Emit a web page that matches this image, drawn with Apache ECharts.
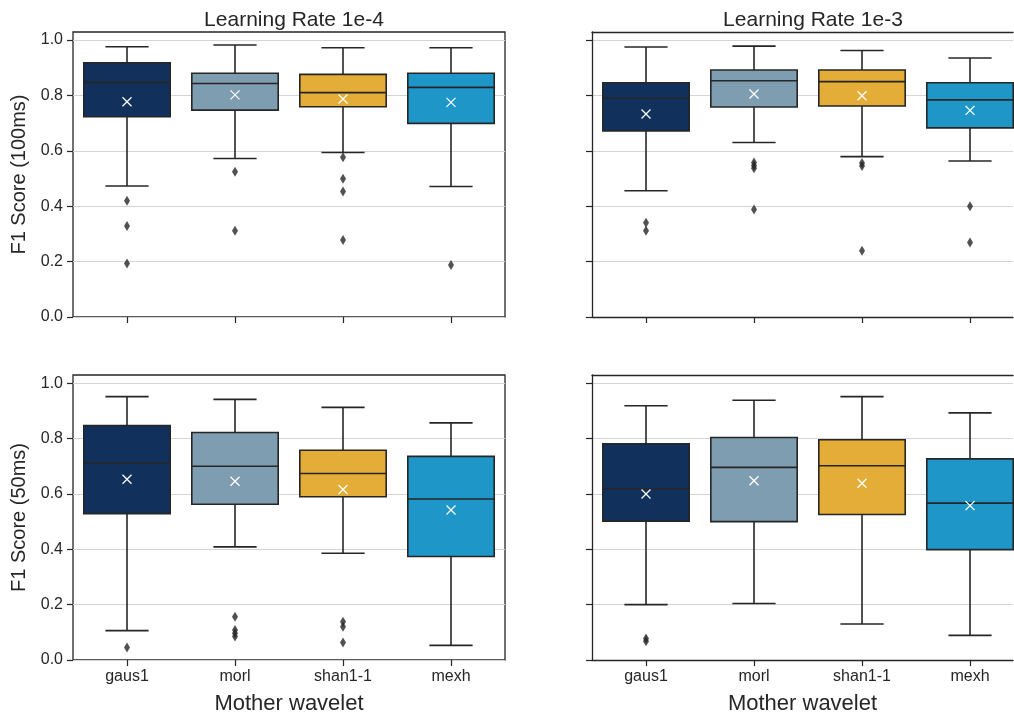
<!DOCTYPE html>
<html>
<head>
<meta charset="utf-8">
<script src="https://cdn.jsdelivr.net/npm/echarts@6/dist/echarts.min.js"></script>
<style>
  html, body { margin: 0; padding: 0; background: #ffffff; }
  #chart { width: 1014px; height: 716px; }
</style>
</head>
<body>
<div id="chart"></div>
<script>
// Mother wavelets compared on the x axis
const categories = ['gaus1', 'morl', 'shan1-1', 'mexh'];
const boxColors = ['#11305c', '#7f9db0', '#e3ad38', '#1e96c7'];
const yTicks = [0, 0.2, 0.4, 0.6, 0.8, 1.0];
const xTicks = [0, 1, 2, 3];

// Box statistics per wavelet: [lower whisker, Q1, median, Q3, upper whisker]
const lr4Stats100 = [
  [0.473, 0.723, 0.847, 0.918, 0.976],
  [0.572, 0.747, 0.843, 0.880, 0.982],
  [0.594, 0.759, 0.810, 0.876, 0.972],
  [0.471, 0.699, 0.829, 0.880, 0.972]
];
const lr4Means100 = [0.777, 0.802, 0.787, 0.775];
const lr4Outliers100 = [
  [0.420, 0.329, 0.193],
  [0.524, 0.311],
  [0.577, 0.499, 0.453, 0.278],
  [0.188]
];

const lr3Stats100 = [
  [0.456, 0.672, 0.790, 0.846, 0.975],
  [0.630, 0.758, 0.853, 0.892, 0.978],
  [0.579, 0.762, 0.850, 0.892, 0.962],
  [0.563, 0.683, 0.784, 0.846, 0.935]
];
const lr3Means100 = [0.733, 0.805, 0.799, 0.746];
const lr3Outliers100 = [
  [0.340, 0.311],
  [0.558, 0.547, 0.537, 0.388],
  [0.556, 0.545, 0.239],
  [0.400, 0.269]
];

const lr4Stats50 = [
  [0.106, 0.529, 0.711, 0.847, 0.952],
  [0.409, 0.563, 0.700, 0.822, 0.942],
  [0.386, 0.590, 0.674, 0.758, 0.913],
  [0.053, 0.374, 0.582, 0.736, 0.857]
];
const lr4Means50 = [0.653, 0.646, 0.616, 0.542];
const lr4Outliers50 = [
  [0.045],
  [0.156, 0.108, 0.097, 0.085],
  [0.138, 0.120, 0.063],
  []
];

const lr3Stats50 = [
  [0.200, 0.502, 0.619, 0.781, 0.919],
  [0.204, 0.500, 0.696, 0.804, 0.939],
  [0.130, 0.526, 0.702, 0.796, 0.952],
  [0.089, 0.399, 0.567, 0.727, 0.893]
];
const lr3Means50 = [0.600, 0.648, 0.639, 0.558];
const lr3Outliers50 = [
  [0.078, 0.068],
  [],
  [],
  []
];

const INK = '#262626';
const FONT = 'Liberation Sans, Arial, sans-serif';

const panels = [
  { stats: lr4Stats100, means: lr4Means100, outliers: lr4Outliers100 },
  { stats: lr3Stats100, means: lr3Means100, outliers: lr3Outliers100 },
  { stats: lr4Stats50, means: lr4Means50, outliers: lr4Outliers50 },
  { stats: lr3Stats50, means: lr3Means50, outliers: lr3Outliers50 }
];

// Right-hand column is cut by the canvas edge: its x range stops short of 3.5
const grids = [
  { left: 73, top: 32, width: 432, height: 285, yMax: 1.029, xMax: 3.5, frame: true },
  { left: 592, top: 32, width: 421, height: 285, yMax: 1.029, xMax: 3.398, frame: false },
  { left: 73, top: 375, width: 432, height: 286, yMax: 1.030, xMax: 3.5, frame: true },
  { left: 592, top: 375, width: 421, height: 286, yMax: 1.030, xMax: 3.398, frame: false }
];

function renderBox(params, api) {
  const i = api.value(0);
  const x = api.coord([i, 0])[0];
  const y = k => api.coord([i, api.value(k)])[1];
  const bw = api.size([1, 0])[0] * 0.8;
  const cw = bw / 2;
  const lo = y(1), q1 = y(2), med = y(3), q3 = y(4), hi = y(5), mean = y(6);
  const line = { stroke: INK, lineWidth: 1.6, fill: null };
  const m = 4.5;
  const cross = { stroke: '#ffffff', lineWidth: 1.3, fill: null };
  return {
    type: 'group',
    children: [
      { type: 'line', shape: { x1: x, y1: q3, x2: x, y2: hi }, style: line },
      { type: 'line', shape: { x1: x, y1: q1, x2: x, y2: lo }, style: line },
      { type: 'line', shape: { x1: x - cw / 2, y1: hi, x2: x + cw / 2, y2: hi }, style: line },
      { type: 'line', shape: { x1: x - cw / 2, y1: lo, x2: x + cw / 2, y2: lo }, style: line },
      { type: 'rect', shape: { x: x - bw / 2, y: q3, width: bw, height: q1 - q3 },
        style: { fill: boxColors[i], stroke: INK, lineWidth: 1.6 } },
      { type: 'line', shape: { x1: x - bw / 2, y1: med, x2: x + bw / 2, y2: med }, style: line },
      { type: 'line', shape: { x1: x - m, y1: mean - m, x2: x + m, y2: mean + m }, style: cross },
      { type: 'line', shape: { x1: x - m, y1: mean + m, x2: x + m, y2: mean - m }, style: cross }
    ]
  };
}

const frameLine = { show: true, onZero: false, lineStyle: { color: INK, width: 1.3 } };
const noLine = { show: false, onZero: false };

const xAxes = grids.map((g, gi) => ({
  type: 'value',
  gridIndex: gi,
  min: -0.5,
  max: g.xMax,
  position: 'bottom',
  axisLine: g.frame ? noLine : frameLine,
  axisTick: { show: true, length: 6, customValues: xTicks, lineStyle: { color: INK, width: 1.2 } },
  axisLabel: {
    show: gi >= 2, customValues: xTicks, color: INK, fontSize: 16, fontFamily: FONT, margin: 9,
    formatter: v => categories[Math.round(v)]
  },
  splitLine: { show: false },
  name: gi >= 2 ? 'Mother wavelet' : '',
  nameLocation: 'middle',
  nameGap: 33,
  nameTextStyle: { color: INK, fontSize: 22, fontFamily: FONT }
}));

// Top edges of the right-hand panels
[1, 3].forEach(gi => {
  xAxes.push({
    type: 'value', gridIndex: gi, min: -0.5, max: grids[gi].xMax, position: 'top',
    axisLine: frameLine, axisTick: { show: false }, axisLabel: { show: false }, splitLine: { show: false }
  });
});

const yAxes = grids.map((g, gi) => ({
  type: 'value',
  gridIndex: gi,
  min: 0,
  max: g.yMax,
  interval: 0.2,
  position: 'left',
  axisLine: g.frame ? noLine : frameLine,
  axisTick: { show: true, length: 6, customValues: yTicks, lineStyle: { color: INK, width: 1.2 } },
  axisLabel: {
    show: gi % 2 === 0, customValues: yTicks, color: INK, fontSize: 16, fontFamily: FONT, margin: 10,
    formatter: v => v.toFixed(1)
  },
  splitLine: { show: true, lineStyle: { color: '#d4d4d4', width: 1 } },
  name: gi === 0 ? 'F1 Score (100ms)' : (gi === 2 ? 'F1 Score (50ms)' : ''),
  nameLocation: 'middle',
  nameRotate: 90,
  nameGap: 44,
  nameTextStyle: { color: INK, fontSize: 20, fontFamily: FONT }
}));

const series = [];
panels.forEach((p, gi) => {
  const boxData = p.stats.map((s, i) => [i, s[0], s[1], s[2], s[3], s[4], p.means[i]]);
  series.push({
    type: 'custom',
    xAxisIndex: gi,
    yAxisIndex: gi,
    renderItem: renderBox,
    encode: { x: 0, y: [1, 2, 3, 4, 5, 6] },
    data: boxData,
    silent: true,
    z: 2
  });
  const outData = [];
  p.outliers.forEach((list, i) => list.forEach(v => outData.push([i, v])));
  series.push({
    type: 'scatter',
    xAxisIndex: gi,
    yAxisIndex: gi,
    symbol: 'diamond',
    symbolSize: [6, 10],
    itemStyle: { color: INK },
    data: outData,
    silent: true,
    z: 3
  });
});

const option = {
  backgroundColor: '#ffffff',
  animation: false,
  title: [
    { text: 'Learning Rate 1e-4', left: 289, top: 5, textAlign: 'center',
      textStyle: { color: INK, fontSize: 21, fontWeight: 'normal', fontFamily: FONT } },
    { text: 'Learning Rate 1e-3', left: 808, top: 5, textAlign: 'center',
      textStyle: { color: INK, fontSize: 21, fontWeight: 'normal', fontFamily: FONT } }
  ],
  grid: grids.map(g => ({
    left: g.left, top: g.top, width: g.width, height: g.height,
    show: g.frame, borderColor: INK, borderWidth: 1.3, backgroundColor: 'transparent',
    containLabel: false
  })),
  xAxis: xAxes,
  yAxis: yAxes,
  series: series
};

const chart = echarts.init(document.getElementById('chart'), null, { renderer: 'canvas' });
chart.setOption(option);
</script>
</body>
</html>
